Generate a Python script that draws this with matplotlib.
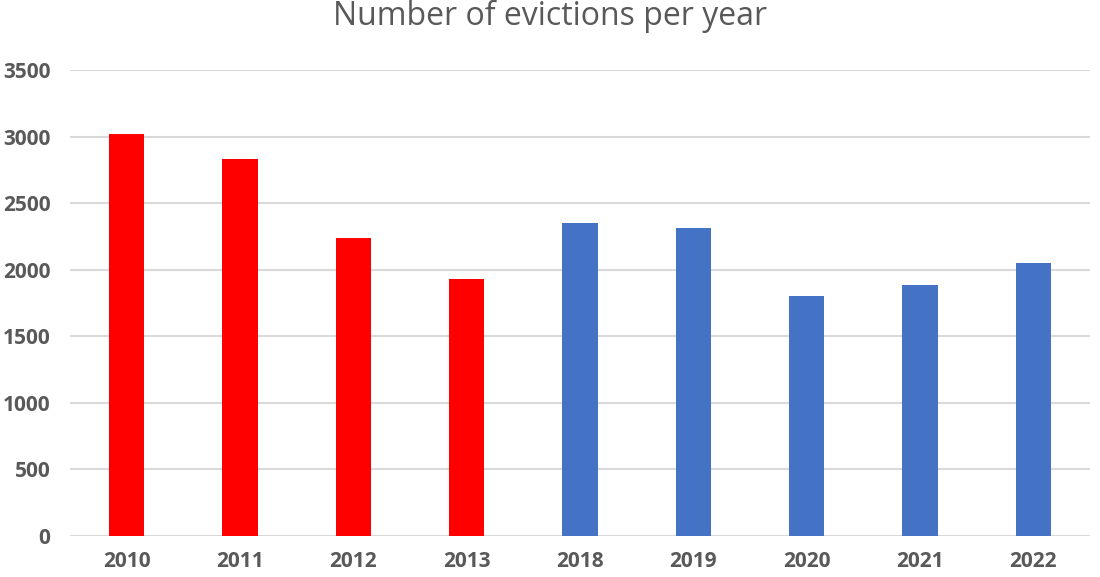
import matplotlib
matplotlib.use("Agg")
import matplotlib.pyplot as plt

years = ["2010", "2011", "2012", "2013", "2018", "2019", "2020", "2021", "2022"]
evictions = [3020, 2832, 2238, 1930, 2349, 2313, 1807, 1890, 2053]
colors = ["#FF0000"] * 4 + ["#4472C4"] * 5
yticks = [0, 500, 1000, 1500, 2000, 2500, 3000, 3500]

plt.rcParams["font.family"] = ["Open Sans", "DejaVu Sans"]

fig = plt.figure(figsize=(11, 5.77), dpi=100)
ax = fig.add_axes([70/1100, 1 - 536/577, 1020/1100, (536 - 70.3)/577])

x = range(len(years))
ax.bar(x, evictions, width=0.31, color=colors, zorder=3)
ax.set_xlim(-0.5, len(years) - 0.5)
ax.set_ylim(0, 3500)
ax.set_yticks(yticks)
ax.set_xticks(list(x))
ax.set_xticklabels(years)
ax.grid(axis="y", color="#D9D9D9", linewidth=1.5, zorder=0)
ax.axhline(0, color="#D9D9D9", linewidth=1.5, zorder=1)
for s in ax.spines.values():
    s.set_visible(False)
ax.tick_params(axis="both", length=0, labelsize=15, colors="#595959")
ax.tick_params(axis="y", pad=14)
ax.tick_params(axis="x", pad=11)
for lbl in ax.get_xticklabels() + ax.get_yticklabels():
    lbl.set_fontweight("bold")

fig.text(0.5, 0.972, "Number of evictions per year", ha="center", va="center",
         fontsize=23, color="#595959")

fig.savefig("out.png", dpi=100)
